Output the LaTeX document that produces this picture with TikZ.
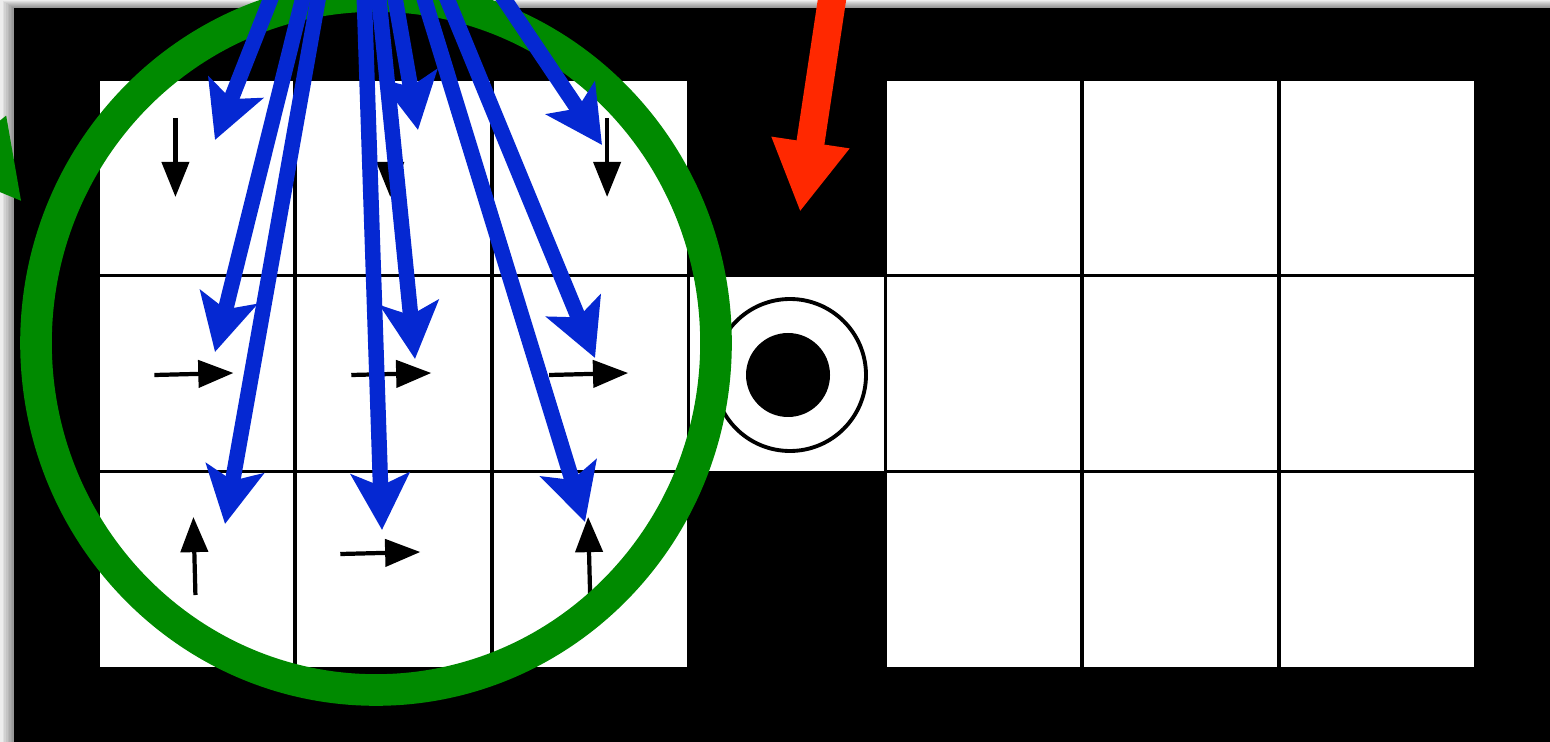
\documentclass[tikz,border=0pt]{standalone}
\usepackage{tikz}
\usetikzlibrary{arrows.meta,calc}
\definecolor{SampleBlue}{RGB}{5,40,210}
\definecolor{RegionGreen}{RGB}{0,138,0}
\definecolor{RewardRed}{RGB}{255,40,0}

\begin{document}
\begin{tikzpicture}[x=0.1mm,y=-0.1mm,
  cell/.style={draw=black, fill=white, line width=1.1pt, minimum size=19.69mm, inner sep=0pt},
  move/.style={-{Triangle[length=10pt,width=7.7pt]}, line width=1.2pt},
  sample/.style={-{Stealth[length=16pt,width=16.5pt,inset=3.5pt]}, SampleBlue, line width=4.4pt},
  reward/.style={-{Triangle[length=20pt,width=21pt]}, RewardRed, line width=8pt},
  region/.style={RegionGreen, line width=9pt}]
  \useasboundingbox (0,0) rectangle (1550,742);
  % frame with its shadow
  \fill[black!7] (0,0) rectangle (1550,742);
  \foreach \d in {1,...,7}
    \fill[black,opacity=0.06] ({14-1.6*\d},{8-\d}) rectangle (1560,760);
  \fill[black] (14,8) rectangle (1560,760);
  % grid cells
  \foreach \r in {0,1,2}
    \foreach \c in {0,1,2,4,5,6}
      \node[cell] (c\r\c) at ({98+196.85*(\c+0.5)},{80+196*(\r+0.5)}) {};
  \node[cell] (c13) at ({98+196.85*3.5},374) {};
  % goal and agent
  \node[circle, draw, line width=1.1pt, minimum size=15.2mm, inner sep=0pt] (goal) at (790,375) {};
  \node[circle, fill=black, minimum size=8.4mm, inner sep=0pt] (agent) at (788,375) {};
  % policy arrows
  \draw[move] ([shift={(-21,-60)}]c00.center) -- ++(0,79);
  \draw[move] ([shift={(-3,-60)}]c01.center) -- ++(0,79);
  \draw[move] ([shift={(17,-60)}]c02.center) -- ++(0,79);
  \draw[move] ([shift={(-42,1)}]c10.center) -- ++(79,-2);
  \draw[move] ([shift={(-42,1)}]c11.center) -- ++(80,-2);
  \draw[move] ([shift={(-41,1)}]c12.center) -- ++(79,-2);
  \draw[move] ([shift={(-1,25)}]c20.center) -- ++(-2,-78);
  \draw[move] ([shift={(-53,-16)}]c21.center) -- ++(80,-2);
  \draw[move] ([shift={(0,25)}]c22.center) -- ++(-2,-78);
  % neighbourhood
  \draw[region] (376,343) ellipse [x radius=340, y radius=347];
  \coordinate (regionsrc) at (-140,0);
  \coordinate (regiontip) at (22,202);
  \draw[region, -{Triangle[length=22pt,width=22pt]}] (regionsrc) -- (regiontip);
  % samples
  \coordinate (origin) at (357,-220);
  \foreach \n/\p in {1/{215,140}, 2/{215,352}, 3/{225,524}, 4/{382,530}, 5/{418,130},
                     6/{415,359}, 7/{585,522}, 8/{595,358}, 9/{602,145}} {
    \coordinate (hit\n) at (\p);
    \draw[sample] (origin) -- (hit\n);
  }
  % reward
  \coordinate (rewardsrc) at (847,-100);
  \coordinate (rewardtip) at (800,212);
  \draw[reward] (rewardsrc) -- (rewardtip);
\end{tikzpicture}
\end{document}
